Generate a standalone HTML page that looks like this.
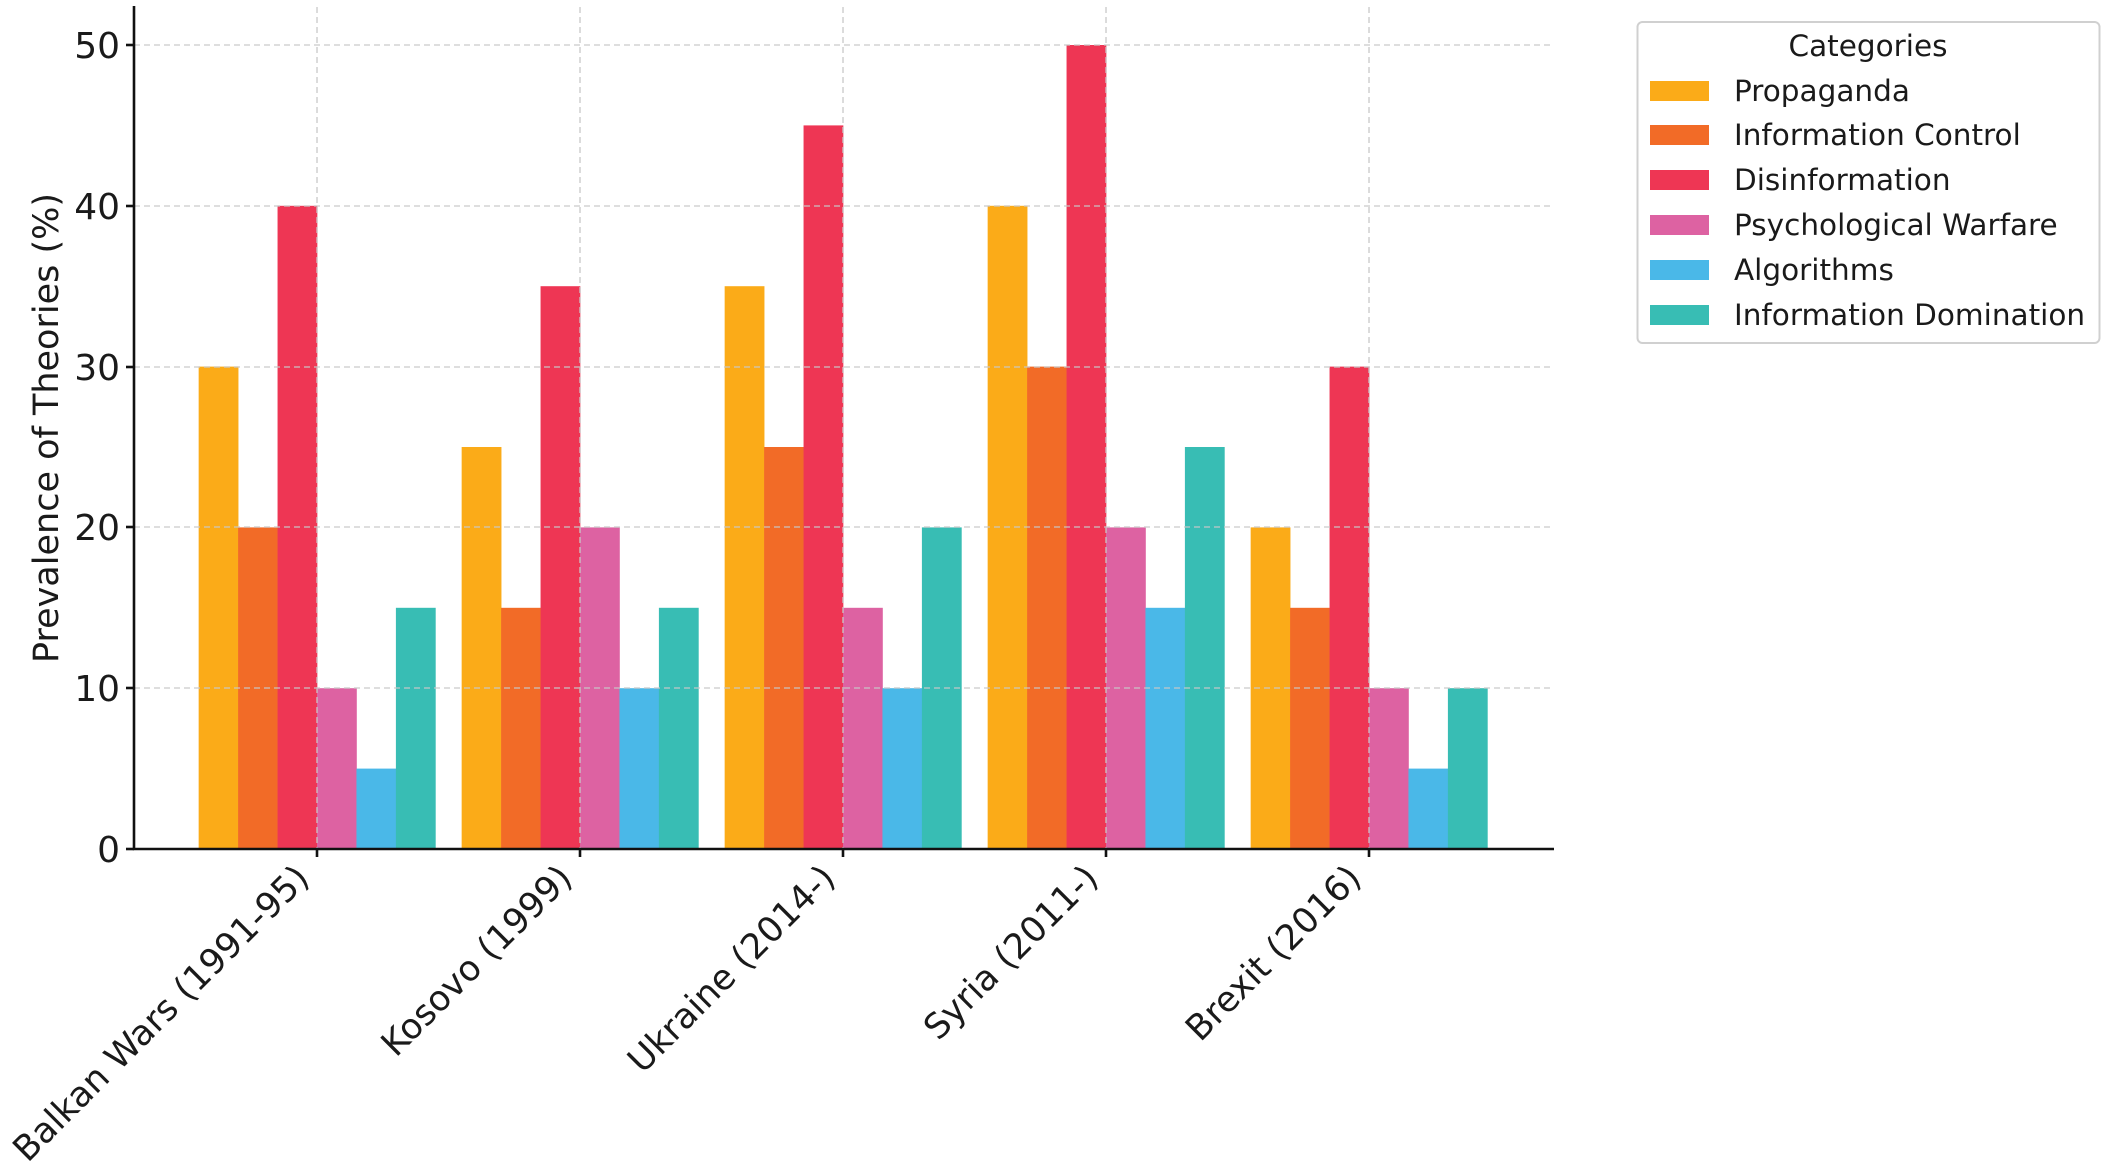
<!DOCTYPE html>
<html><head><meta charset="utf-8"><style>body{margin:0;background:#fff}svg{display:block}</style></head>
<body>
<svg width="2107" height="1172" viewBox="0 0 2107 1172" xmlns="http://www.w3.org/2000/svg" font-family="DejaVu Sans, Liberation Sans, sans-serif">
<g>
<rect x="198.65" y="366.6" width="39.8" height="482.4" fill="#FBAB18"/>
<rect x="238.1" y="527.4" width="39.8" height="321.6" fill="#F26B27"/>
<rect x="277.55" y="205.8" width="39.8" height="643.2" fill="#EE3654"/>
<rect x="317" y="688.2" width="39.8" height="160.8" fill="#DD62A2"/>
<rect x="356.45" y="768.6" width="39.8" height="80.4" fill="#4AB8E8"/>
<rect x="395.9" y="607.8" width="39.8" height="241.2" fill="#38BDB4"/>

<rect x="461.65" y="447" width="39.8" height="402" fill="#FBAB18"/>
<rect x="501.1" y="607.8" width="39.8" height="241.2" fill="#F26B27"/>
<rect x="540.55" y="286.2" width="39.8" height="562.8" fill="#EE3654"/>
<rect x="580" y="527.4" width="39.8" height="321.6" fill="#DD62A2"/>
<rect x="619.45" y="688.2" width="39.8" height="160.8" fill="#4AB8E8"/>
<rect x="658.9" y="607.8" width="39.8" height="241.2" fill="#38BDB4"/>

<rect x="724.65" y="286.2" width="39.8" height="562.8" fill="#FBAB18"/>
<rect x="764.1" y="447" width="39.8" height="402" fill="#F26B27"/>
<rect x="803.55" y="125.4" width="39.8" height="723.6" fill="#EE3654"/>
<rect x="843" y="607.8" width="39.8" height="241.2" fill="#DD62A2"/>
<rect x="882.45" y="688.2" width="39.8" height="160.8" fill="#4AB8E8"/>
<rect x="921.9" y="527.4" width="39.8" height="321.6" fill="#38BDB4"/>

<rect x="987.65" y="205.8" width="39.8" height="643.2" fill="#FBAB18"/>
<rect x="1027.1" y="366.6" width="39.8" height="482.4" fill="#F26B27"/>
<rect x="1066.55" y="45" width="39.8" height="804" fill="#EE3654"/>
<rect x="1106" y="527.4" width="39.8" height="321.6" fill="#DD62A2"/>
<rect x="1145.45" y="607.8" width="39.8" height="241.2" fill="#4AB8E8"/>
<rect x="1184.9" y="447" width="39.8" height="402" fill="#38BDB4"/>

<rect x="1250.65" y="527.4" width="39.8" height="321.6" fill="#FBAB18"/>
<rect x="1290.1" y="607.8" width="39.8" height="241.2" fill="#F26B27"/>
<rect x="1329.55" y="366.6" width="39.8" height="482.4" fill="#EE3654"/>
<rect x="1369" y="688.2" width="39.8" height="160.8" fill="#DD62A2"/>
<rect x="1408.45" y="768.6" width="39.8" height="80.4" fill="#4AB8E8"/>
<rect x="1447.9" y="688.2" width="39.8" height="160.8" fill="#38BDB4"/>
</g>
<g stroke="#c8c8c8" stroke-width="1.6" stroke-dasharray="6,4" opacity="0.8">
<line x1="134" x2="1553" y1="45" y2="45"/><line x1="134" x2="1553" y1="206" y2="206"/><line x1="134" x2="1553" y1="367" y2="367"/><line x1="134" x2="1553" y1="527" y2="527"/><line x1="134" x2="1553" y1="688" y2="688"/>
<line x1="317" x2="317" y1="7" y2="849"/><line x1="580" x2="580" y1="7" y2="849"/><line x1="843" x2="843" y1="7" y2="849"/><line x1="1106" x2="1106" y1="7" y2="849"/><line x1="1369" x2="1369" y1="7" y2="849"/>
</g>
<g stroke="#111" stroke-width="2.6" fill="none">
<polyline points="134,6 134,849 1554,849"/>
<line x1="126" x2="134" y1="45" y2="45"/><line x1="126" x2="134" y1="206" y2="206"/><line x1="126" x2="134" y1="367" y2="367"/><line x1="126" x2="134" y1="527" y2="527"/><line x1="126" x2="134" y1="688" y2="688"/><line x1="126" x2="134" y1="849" y2="849"/>
<line x1="317" x2="317" y1="849" y2="857"/><line x1="580" x2="580" y1="849" y2="857"/><line x1="843" x2="843" y1="849" y2="857"/><line x1="1106" x2="1106" y1="849" y2="857"/><line x1="1369" x2="1369" y1="849" y2="857"/>
</g>
<g font-size="36" fill="#1a1a1a" text-anchor="end">
<text x="120" y="58">50</text><text x="120" y="219">40</text><text x="120" y="380">30</text><text x="120" y="540">20</text><text x="120" y="701">10</text><text x="120" y="862">0</text>
</g>
<text transform="translate(58,428) rotate(-90)" text-anchor="middle" font-size="35" fill="#1a1a1a">Prevalence of Theories (%)</text>
<g font-size="35" fill="#1a1a1a" text-anchor="end">
<text transform="translate(311,880) rotate(-45)">Balkan Wars (1991-95)</text>
<text transform="translate(574,880) rotate(-45)">Kosovo (1999)</text>
<text transform="translate(837,880) rotate(-45)">Ukraine (2014-)</text>
<text transform="translate(1100,880) rotate(-45)">Syria (2011-)</text>
<text transform="translate(1363,880) rotate(-45)">Brexit (2016)</text>
</g>
<rect x="1637.5" y="22" width="462" height="321" rx="5" fill="#fff" stroke="#d0d0d0" stroke-width="2"/>
<text x="1868" y="56" text-anchor="middle" font-size="29.5" fill="#1a1a1a">Categories</text>
<g font-size="29.5" fill="#1a1a1a">
<rect x="1650" y="81" width="59" height="20" fill="#FBAB18"/><text x="1734" y="101">Propaganda</text>
<rect x="1650" y="125" width="59" height="20" fill="#F26B27"/><text x="1734" y="145">Information Control</text>
<rect x="1650" y="170" width="59" height="20" fill="#EE3654"/><text x="1734" y="190">Disinformation</text>
<rect x="1650" y="215" width="59" height="20" fill="#DD62A2"/><text x="1734" y="235">Psychological Warfare</text>
<rect x="1650" y="260" width="59" height="20" fill="#4AB8E8"/><text x="1734" y="280">Algorithms</text>
<rect x="1650" y="305" width="59" height="20" fill="#38BDB4"/><text x="1734" y="325">Information Domination</text>
</g>
</svg>
</body></html>
